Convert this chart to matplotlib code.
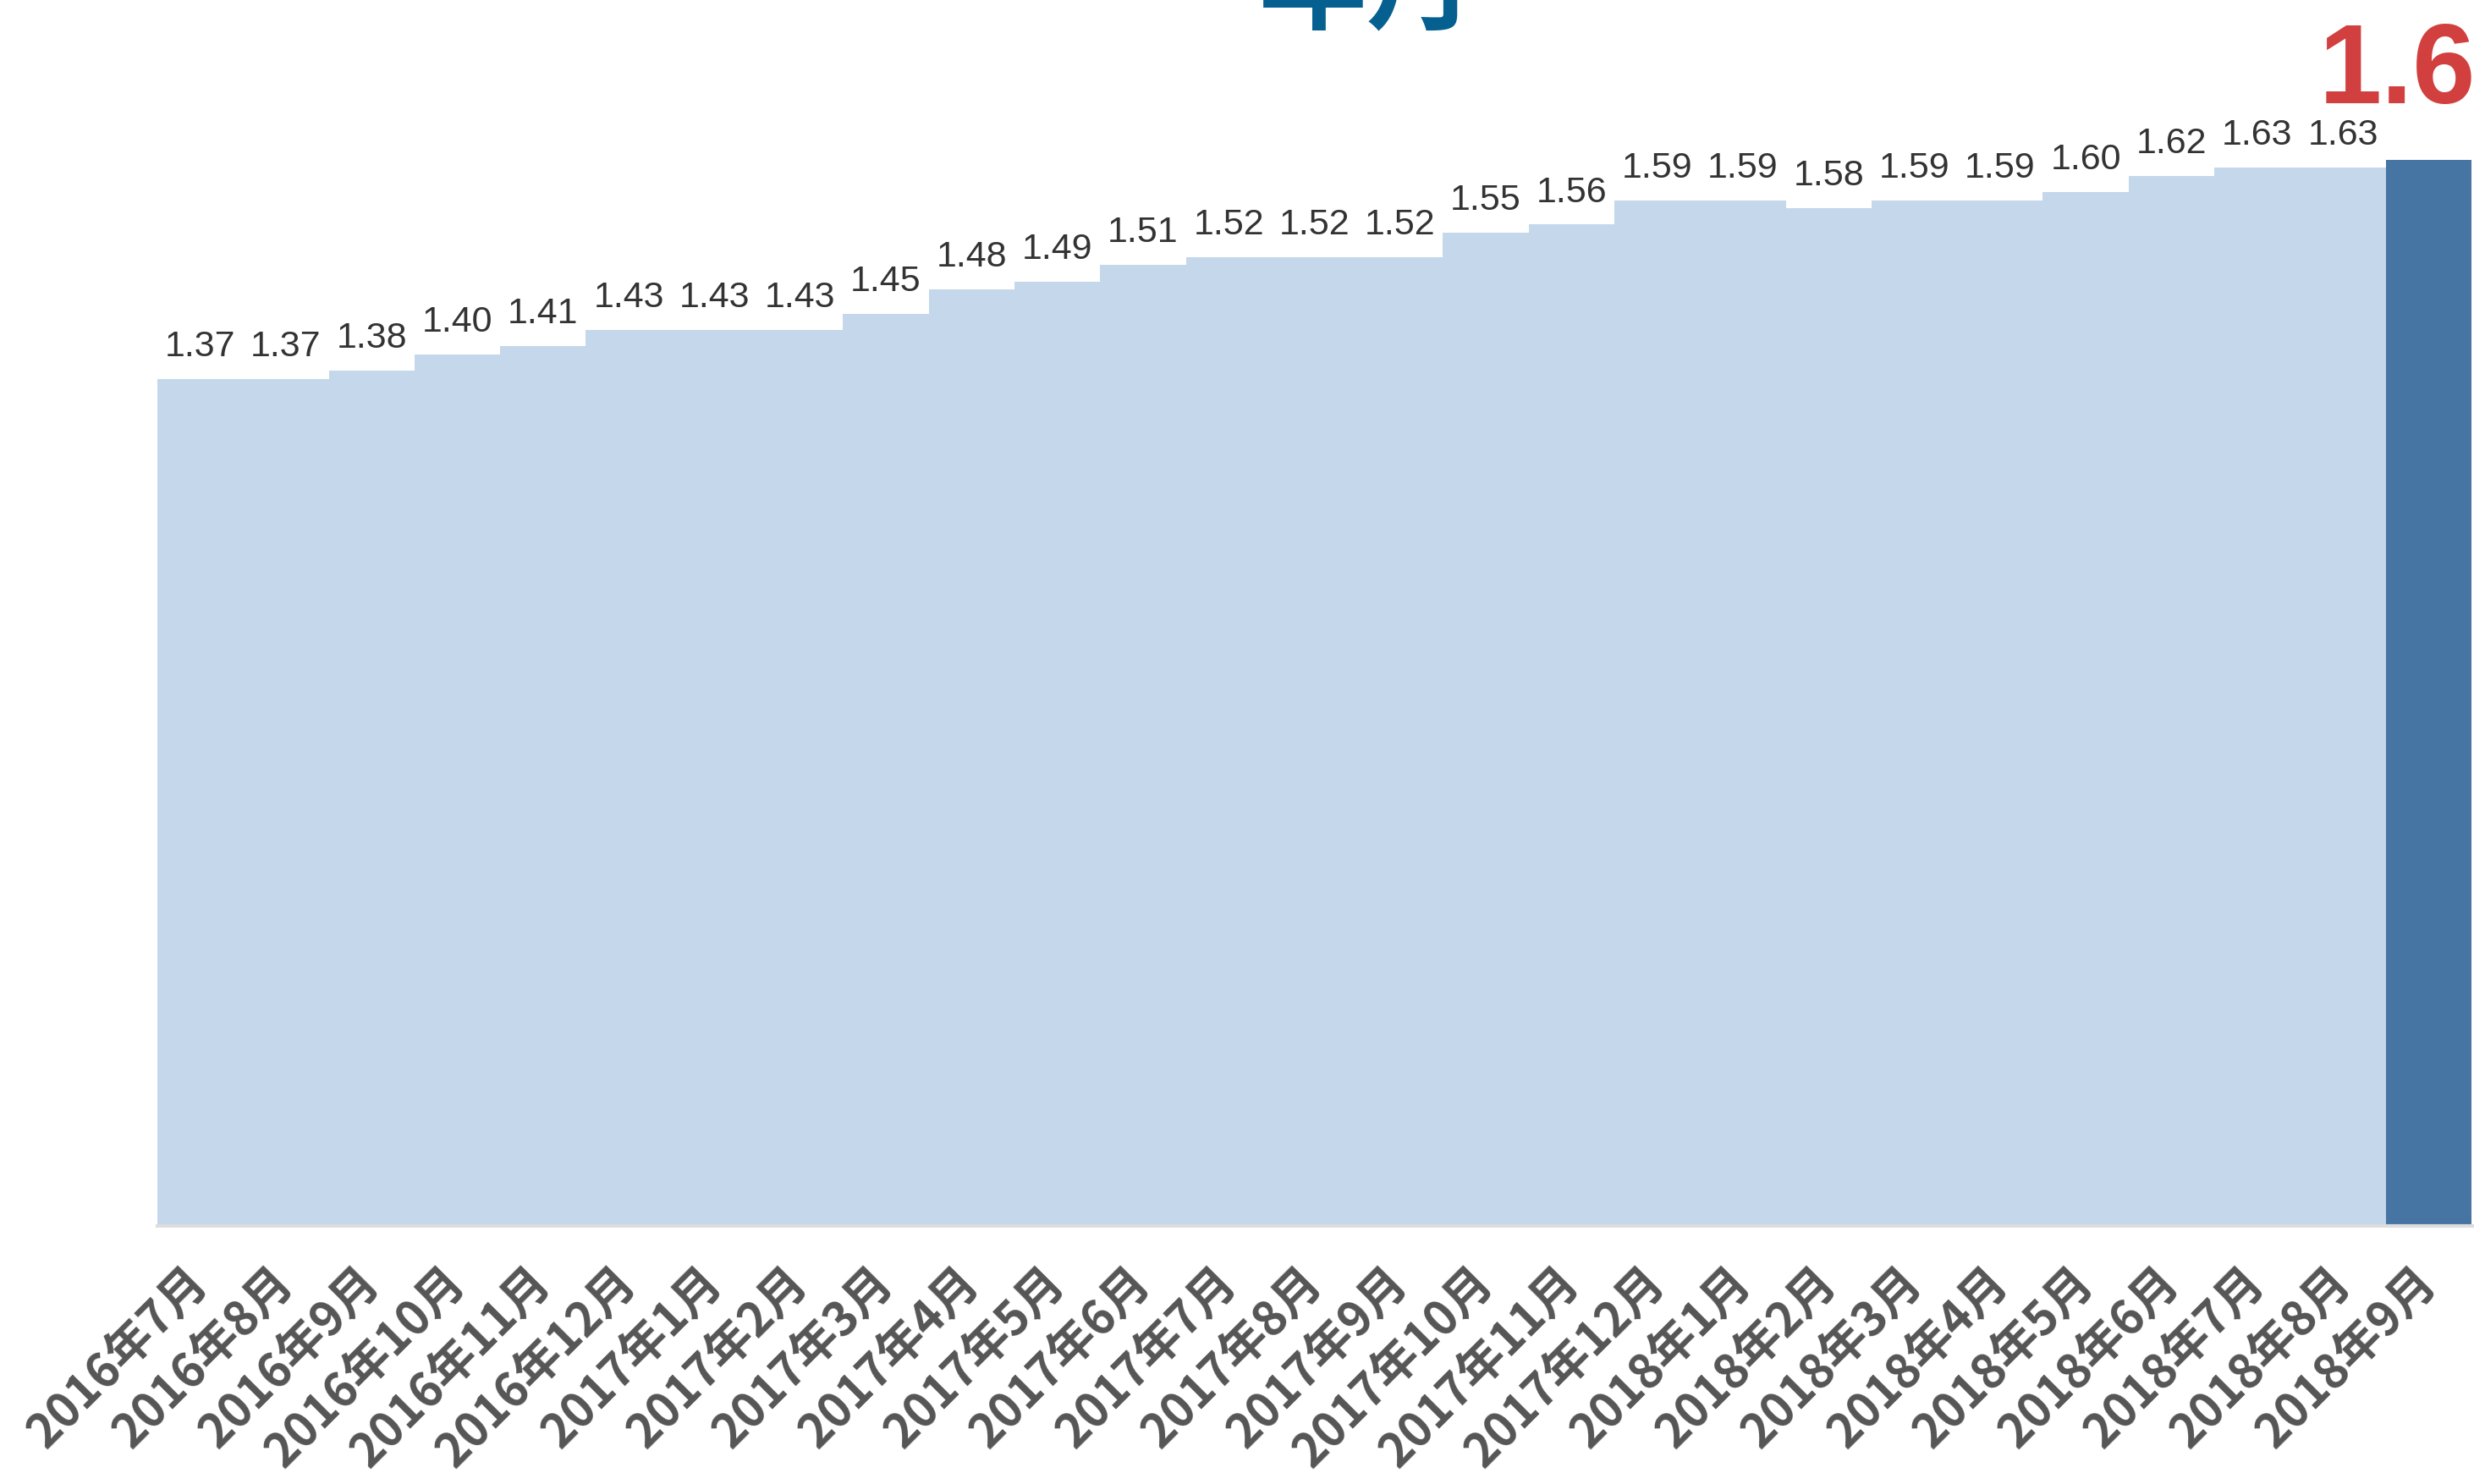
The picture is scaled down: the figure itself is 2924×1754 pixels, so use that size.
import matplotlib
matplotlib.use('Agg')
import matplotlib.pyplot as plt

# =====================================================
# Data
# =====================================================

months = [
    '2016年7月', '2016年8月', '2016年9月', '2016年10月', '2016年11月', '2016年12月',
    '2017年1月', '2017年2月', '2017年3月', '2017年4月', '2017年5月', '2017年6月',
    '2017年7月', '2017年8月', '2017年9月', '2017年10月', '2017年11月', '2017年12月',
    '2018年1月', '2018年2月', '2018年3月', '2018年4月', '2018年5月', '2018年6月',
    '2018年7月', '2018年8月', '2018年9月'
]

values = [
    1.37, 1.37, 1.38, 1.40, 1.41, 1.43,
    1.43, 1.43, 1.45, 1.48, 1.49, 1.51,
    1.52, 1.52, 1.52, 1.55, 1.56, 1.59,
    1.59, 1.58, 1.59, 1.59, 1.60, 1.62,
    1.63, 1.63, 1.64
]

title_text = '年月'

# =====================================================
# Figure
# =====================================================

W, H = 2924, 1754
fig = plt.figure(figsize=(W / 200, H / 200), dpi=200)
ax = fig.add_axes([186 / W, 1 - 1449 / H, 1 - 186 / W, 1449 / H])

x = list(range(len(values)))
colors = ['#c5d7eb'] * (len(values) - 1) + ['#4674a3']

ax.bar(x, values, width=1.0, color=colors, linewidth=0)

ax.set_xlim(-0.5, 26.53)
ax.set_ylim(0.325, 1.837)

# value labels
for i, v in enumerate(values[:-1]):
    ax.annotate(
        f'{v:.2f}', (i, v),
        xytext=(0, 9.7), textcoords='offset points',
        ha='center', va='baseline',
        fontsize=15.5, color='#333333', family='Liberation Sans'
    )

# latest value, highlighted
ax.annotate(
    f'{values[-1]:.2f}', (x[-1], values[-1]),
    xytext=(0, 24), textcoords='offset points',
    ha='center', va='baseline',
    fontsize=48, fontweight='bold', color='#d1403e',
    family='Liberation Sans'
)

# =====================================================
# Axes styling
# =====================================================

ax.set_xticks(x)
ax.set_xticklabels(
    months, rotation=45, ha='right', va='center', rotation_mode='anchor',
    fontsize=20, fontweight='bold', color='#555555',
    family=['Noto Sans CJK SC', 'DejaVu Sans']
)
ax.tick_params(axis='x', length=0, pad=21)
ax.set_yticks([])

for s in ['top', 'left', 'right']:
    ax.spines[s].set_visible(False)
ax.spines['bottom'].set_color('#dddddd')
ax.spines['bottom'].set_linewidth(1.5)

# title (only the lower part is visible in the frame)
fig.text(
    1615 / W, 1 - 24 / H, title_text,
    ha='center', va='baseline',
    fontsize=46, fontweight='bold', color='#06608f',
    family=['Noto Sans CJK SC', 'DejaVu Sans']
)

fig.savefig('out.png', dpi=200)
